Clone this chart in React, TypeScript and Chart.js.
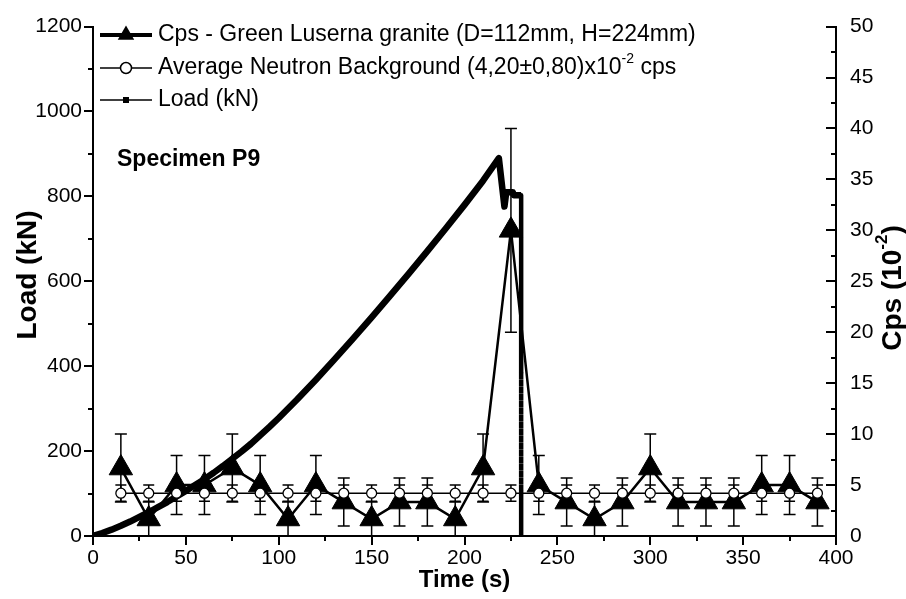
import React, { useEffect, useRef } from "react";
import { Chart, registerables } from "chart.js";

Chart.register(...registerables);

const FONT = '"Liberation Sans", Arial, Helvetica, sans-serif';

// Time axis ticks (s)
const xTickLabels = [0, 50, 100, 150, 200, 250, 300, 350, 400];

// Neutron count rate (x10^-2 cps) – triangles
const cpsTime = [15, 30, 45, 60, 75, 90, 105, 120, 135, 150, 165, 180, 195, 210, 225, 240, 255, 270, 285, 300, 315, 330, 345, 360, 375, 390];
const cpsValues = [6.67, 1.67, 5, 5, 6.67, 5, 1.67, 5, 3.33, 1.67, 3.33, 3.33, 1.67, 6.67, 30, 5, 3.33, 1.67, 3.33, 6.67, 3.33, 3.33, 3.33, 5, 5, 3.33];
const cpsErrors = [3.33, 1.67, 2.89, 2.89, 3.33, 2.89, 1.67, 2.89, 2.36, 1.67, 2.36, 2.36, 1.67, 3.33, 10, 2.89, 2.36, 1.67, 2.36, 3.33, 2.36, 2.36, 2.36, 2.89, 2.89, 2.36];

// Average neutron background – open circles
const bgTime = [15, 30, 45, 60, 75, 90, 105, 120, 135, 150, 165, 180, 195, 210, 225, 240, 255, 270, 285, 300, 315, 330, 345, 360, 375, 390];
const bgValues = [4.2, 4.2, 4.2, 4.2, 4.2, 4.2, 4.2, 4.2, 4.2, 4.2, 4.2, 4.2, 4.2, 4.2, 4.2, 4.2, 4.2, 4.2, 4.2, 4.2, 4.2, 4.2, 4.2, 4.2, 4.2, 4.2];
const bgErrors = [0.8, 0.8, 0.8, 0.8, 0.8, 0.8, 0.8, 0.8, 0.8, 0.8, 0.8, 0.8, 0.8, 0.8, 0.8, 0.8, 0.8, 0.8, 0.8, 0.8, 0.8, 0.8, 0.8, 0.8, 0.8, 0.8];

// Load curve (kN)
const loadTime = [0, 5, 10, 15, 20, 25, 30, 35, 40, 45, 50, 55, 60, 65, 70, 75, 80, 85, 90, 95, 100, 110, 120, 130, 140, 150, 160, 170, 180, 190, 200, 210, 218.5, 221.5, 222.5, 226, 226.5, 230.5, 230.5, 230.5, 230.5];
const loadValues = [0, 7, 15, 24, 34, 45, 56, 68, 80, 93, 106, 120, 134, 149, 165, 182, 199, 217, 237, 257, 278, 322, 368, 416, 465, 515, 566, 618, 671, 725, 780, 837, 890, 776, 810, 810, 803, 803, 385, 105, 0];

const legendLabels = [
  "Cps - Green Luserna granite (D=112mm, H=224mm)",
  "Average Neutron Background (4,20\u00B10,80)x10",
  "Load (kN)",
];

const errorBarsPlugin = {
  id: "errorBars",
  beforeDatasetDraw(chart: any, args: any) {
    const ds: any = chart.data.datasets[args.index];
    if (!ds.errors) return;
    const meta = chart.getDatasetMeta(args.index);
    const ys = chart.scales[meta.yAxisID];
    const ctx = chart.ctx;
    ctx.save();
    ctx.strokeStyle = "#000";
    ctx.lineWidth = 1.5;
    const cw = ds.capWidth / 2;
    meta.data.forEach((pt: any, i: number) => {
      const v = ds.data[i].y;
      const e = ds.errors[i];
      const x = pt.x;
      const yT = ys.getPixelForValue(v + e);
      const lo = v - e;
      const yB = ys.getPixelForValue(Math.max(lo, 0));
      ctx.beginPath();
      ctx.moveTo(x, yT);
      ctx.lineTo(x, yB);
      ctx.moveTo(x - cw, yT);
      ctx.lineTo(x + cw, yT);
      if (lo > 0.05) {
        ctx.moveTo(x - cw, yB);
        ctx.lineTo(x + cw, yB);
      }
      ctx.stroke();
    });
    ctx.restore();
  },
};

function drawSuperText(ctx: CanvasRenderingContext2D, parts: { t: string; sup?: boolean }[], x: number, y: number, size: number, bold: boolean, align: "left" | "center") {
  const w = bold ? "bold " : "";
  const supSize = Math.round(size * 0.62);
  let total = 0;
  const widths = parts.map((p) => {
    ctx.font = `${w}${p.sup ? supSize : size}px ${FONT}`;
    const m = ctx.measureText(p.t).width;
    total += m;
    return m;
  });
  let cx = align === "center" ? x - total / 2 : x;
  parts.forEach((p, i) => {
    ctx.font = `${w}${p.sup ? supSize : size}px ${FONT}`;
    ctx.textAlign = "left";
    ctx.textBaseline = "middle";
    ctx.fillText(p.t, cx, p.sup ? y - size * 0.38 : y);
    cx += widths[i];
  });
}

const decorPlugin = {
  id: "decor",
  afterDraw(chart: any) {
    const ctx: CanvasRenderingContext2D = chart.ctx;
    const { left, right, bottom } = chart.chartArea;
    const xs = chart.scales.x;
    const yl = chart.scales.y;
    const yr = chart.scales.y1;
    ctx.save();
    ctx.strokeStyle = "#000";
    ctx.fillStyle = "#000";
    ctx.lineWidth = 2;
    ctx.beginPath();
    for (let v = 0; v <= 400; v += 25) {
      const p = Math.round(xs.getPixelForValue(v));
      const len = v % 50 === 0 ? 9 : 5;
      ctx.moveTo(p, bottom);
      ctx.lineTo(p, bottom + len);
    }
    for (let v = 0; v <= 1200; v += 100) {
      const p = Math.round(yl.getPixelForValue(v));
      const len = v % 200 === 0 ? 9 : 5;
      ctx.moveTo(left - len, p);
      ctx.lineTo(left, p);
    }
    for (let v = 0; v <= 50; v += 2.5) {
      const p = Math.round(yr.getPixelForValue(v));
      const len = v % 5 === 0 ? 10 : 5;
      ctx.moveTo(right - len, p);
      ctx.lineTo(right, p);
    }
    ctx.stroke();

    // legend
    const lx0 = 100, lx1 = 152, mx = 126, tx = 158;
    const rows = [35, 68, 100];
    ctx.lineWidth = 4;
    ctx.beginPath();
    ctx.moveTo(lx0, rows[0]);
    ctx.lineTo(lx1, rows[0]);
    ctx.stroke();
    const r = 9.5;
    ctx.beginPath();
    ctx.moveTo(mx, rows[0] - r);
    ctx.lineTo(mx + r * 0.866, rows[0] + r / 2);
    ctx.lineTo(mx - r * 0.866, rows[0] + r / 2);
    ctx.closePath();
    ctx.fill();
    ctx.lineWidth = 1.5;
    ctx.beginPath();
    ctx.moveTo(lx0, rows[1]);
    ctx.lineTo(lx1, rows[1]);
    ctx.stroke();
    ctx.beginPath();
    ctx.arc(mx, rows[1], 5.5, 0, Math.PI * 2);
    ctx.fillStyle = "#fff";
    ctx.fill();
    ctx.stroke();
    ctx.fillStyle = "#000";
    ctx.beginPath();
    ctx.moveTo(lx0, rows[2]);
    ctx.lineTo(lx1, rows[2]);
    ctx.stroke();
    ctx.fillRect(mx - 3, rows[2] - 3, 6, 6);

    const fs = 23;
    drawSuperText(ctx, [{ t: legendLabels[0] }], tx, rows[0], fs, false, "left");
    drawSuperText(ctx, [{ t: legendLabels[1] }, { t: "-2", sup: true }, { t: " cps" }], tx, rows[1], fs, false, "left");
    drawSuperText(ctx, [{ t: legendLabels[2] }], tx, rows[2], fs, false, "left");

    drawSuperText(ctx, [{ t: "Specimen P9" }], 117, 160, 23, true, "left");

    drawSuperText(ctx, [{ t: "Time (s)" }], (left + right) / 2, 580, 24, true, "center");
    ctx.save();
    ctx.translate(28, 275);
    ctx.rotate(-Math.PI / 2);
    drawSuperText(ctx, [{ t: "Load (kN)" }], 0, 0, 28, true, "center");
    ctx.restore();
    ctx.save();
    ctx.translate(893, 288);
    ctx.rotate(-Math.PI / 2);
    drawSuperText(ctx, [{ t: "Cps (10" }, { t: "-2", sup: true }, { t: ")" }], 0, 0, 28, true, "center");
    ctx.restore();
    ctx.restore();
  },
};

export default function App() {
  const ref = useRef<HTMLCanvasElement | null>(null);
  useEffect(() => {
    if (!ref.current) return;
    const tickFont = { family: FONT, size: 21 };
    const plain = (v: any) => String(v);
    const chart = new Chart(ref.current, {
      type: "line",
      data: {
        datasets: [
          {
            label: legendLabels[0],
            data: cpsTime.map((t, i) => ({ x: t, y: cpsValues[i] })),
            yAxisID: "y1",
            borderColor: "#000",
            backgroundColor: "#000",
            borderWidth: 2.5,
            pointStyle: "triangle",
            pointRadius: 13.5,
            pointBorderWidth: 1,
            pointBackgroundColor: "#000",
            pointBorderColor: "#000",
            tension: 0,
            order: 1,
            errors: cpsErrors,
            capWidth: 12,
          } as any,
          {
            label: "bg",
            data: bgTime.map((t, i) => ({ x: t, y: bgValues[i] })),
            yAxisID: "y1",
            borderColor: "#000",
            backgroundColor: "#fff",
            borderWidth: 1.5,
            pointStyle: "circle",
            pointRadius: 5,
            pointBorderWidth: 1.3,
            pointBackgroundColor: "#fff",
            pointBorderColor: "#000",
            tension: 0,
            order: 0,
            errors: bgErrors,
            capWidth: 11,
          } as any,
          {
            label: legendLabels[2],
            data: loadTime.map((t, i) => ({ x: t, y: loadValues[i] })),
            yAxisID: "y",
            borderColor: "#000",
            borderWidth: 6.5,
            borderJoinStyle: "round",
            borderCapStyle: "butt",
            pointRadius: 0,
            tension: 0,
            order: 2,
            segment: {
              borderWidth: (c: any) => (c.p0.parsed.x === c.p1.parsed.x ? 4.5 : undefined),
              borderDash: (c: any) =>
                c.p0.parsed.x === c.p1.parsed.x && c.p0.parsed.y < 500 && c.p1.parsed.y > 50 ? [4, 3] : undefined,
            },
          } as any,
        ],
      },
      options: {
        animation: false,
        responsive: false,
        devicePixelRatio: 1,
        layout: { padding: { top: 18, left: 0, right: 0, bottom: 0 } },
        plugins: { legend: { display: false }, tooltip: { enabled: false } },
        elements: { line: { fill: false } },
        scales: {
          x: {
            type: "linear",
            min: 0,
            max: 400,
            afterBuildTicks: (s: any) => {
              s.ticks = xTickLabels.map((v) => ({ value: v }));
            },
            ticks: { color: "#000", font: tickFont, padding: 10, maxRotation: 0, callback: plain },
            grid: { display: false, drawTicks: false },
            border: { display: true, color: "#000", width: 2 },
            afterFit: (s: any) => {
              s.height = 63;
            },
          },
          y: {
            type: "linear",
            position: "left",
            min: 0,
            max: 1200,
            ticks: { stepSize: 200, color: "#000", font: tickFont, padding: 11, callback: plain },
            grid: { display: false, drawTicks: false },
            border: { display: true, color: "#000", width: 2 },
            afterFit: (s: any) => {
              s.width = 93;
            },
          },
          y1: {
            type: "linear",
            position: "right",
            min: 0,
            max: 50,
            ticks: { stepSize: 5, color: "#000", font: tickFont, padding: 14, callback: plain },
            grid: { display: false, drawTicks: false },
            border: { display: true, color: "#000", width: 2 },
            afterFit: (s: any) => {
              s.width = 70;
            },
          },
        },
      } as any,
      plugins: [errorBarsPlugin, decorPlugin],
    });
    return () => chart.destroy();
  }, []);
  return (
    <div style={{ position: "absolute", left: 0, top: 0, width: 906, height: 599, background: "#fff" }}>
      <canvas ref={ref} width={906} height={599} style={{ width: 906, height: 599 }} />
    </div>
  );
}
